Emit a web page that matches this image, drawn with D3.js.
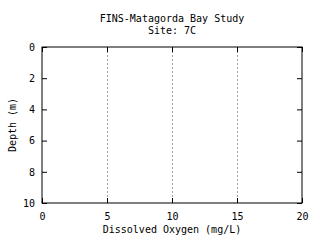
<!DOCTYPE html>
<html>
<head>
<meta charset="utf-8">
<script src="https://cdn.jsdelivr.net/npm/d3@7"></script>
<style>
  body { margin: 0; background: #fff; }
  svg text { font-family: "DejaVu Sans Mono", monospace; font-size: 10px; fill: #000; }
</style>
</head>
<body>
<svg id="chart" width="320" height="240"></svg>
<script>
const TITLE_LINES = ['FINS-Matagorda Bay Study', 'Site: 7C'];
const X_LABEL = 'Dissolved Oxygen (mg/L)';
const Y_LABEL = 'Depth (m)';
const X_DOMAIN = [0, 20];
const Y_DOMAIN = [0, 10];
const X_TICKS = [0, 5, 10, 15, 20];
const Y_TICKS = [0, 2, 4, 6, 8, 10];
const GRID_X = [5, 10, 15];

(function() {
    var svg = d3.select('#chart');
    var left = 42, right = 302, top = 47, bottom = 203;
    var TICK = 5;

    var x = d3.scaleLinear().domain(X_DOMAIN).range([left, right]);
    var y = d3.scaleLinear().domain(Y_DOMAIN).range([top, bottom]);

    svg.append('rect').attr('width', 320).attr('height', 240).style('fill', '#fff');

    // vertical grid
    svg.selectAll('line.grid').data(GRID_X).enter().append('line')
    .attr('class', 'grid')
    .attr('x1', d => Math.round(x(d)) + 0.5).attr('x2', d => Math.round(x(d)) + 0.5)
    .attr('y1', top).attr('y2', bottom)
    .style('stroke', '#a0a0a0')
    .style('stroke-width', 1)
    .style('stroke-dasharray', '2,2');

    // inward ticks on all four sides
    var xAxisB = d3.axisBottom(x).tickValues(X_TICKS).tickSize(-TICK).tickPadding(10).tickFormat(d3.format('d'));
    var xAxisT = d3.axisTop(x).tickValues(X_TICKS).tickSize(-TICK).tickFormat('');
    var yAxisL = d3.axisLeft(y).tickValues(Y_TICKS).tickSize(-TICK).tickPadding(7).tickFormat(d3.format('d'));
    var yAxisR = d3.axisRight(y).tickValues(Y_TICKS).tickSize(-TICK).tickFormat('');

    var gB = svg.append('g').attr('transform', 'translate(0,' + bottom + ')').call(xAxisB);
    var gT = svg.append('g').attr('transform', 'translate(0,' + top + ')').call(xAxisT);
    var gL = svg.append('g').attr('transform', 'translate(' + left + ',0)').call(yAxisL);
    var gR = svg.append('g').attr('transform', 'translate(' + right + ',0)').call(yAxisR);

    [gB, gT, gL, gR].forEach(function(g) {
        g.select('.domain').remove();
        g.selectAll('line').style('stroke', '#000').style('stroke-width', 1);
        g.selectAll('text').style('font-family', '"DejaVu Sans Mono", monospace').style('font-size', '10px').style('fill', '#000');
    });

    // frame
    svg.append('rect')
    .attr('x', left).attr('y', top)
    .attr('width', right - left).attr('height', bottom - top)
    .style('fill', 'none')
    .style('stroke', '#000')
    .style('stroke-width', 1);

    // title
    svg.selectAll('text.title').data(TITLE_LINES).enter().append('text')
    .attr('class', 'title')
    .attr('x', (left + right) / 2)
    .attr('y', (d, i) => 22 + i * 12)
    .attr('text-anchor', 'middle')
    .text(d => d);

    svg.append('text')
    .attr('x', (left + right) / 2)
    .attr('y', 233)
    .attr('text-anchor', 'middle')
    .text(X_LABEL);

    svg.append('text')
    .attr('transform', 'translate(16,' + (top + bottom) / 2 + ') rotate(-90)')
    .attr('text-anchor', 'middle')
    .text(Y_LABEL);
})();
</script>
</body>
</html>
